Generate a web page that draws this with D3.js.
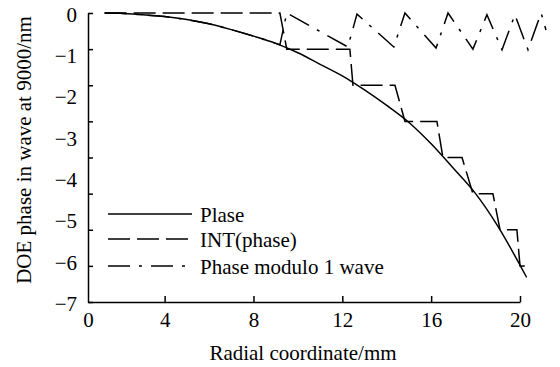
<!DOCTYPE html>
<html>
<head>
<meta charset="utf-8">
<script src="https://cdn.jsdelivr.net/npm/d3@7"></script>
<style>
  body { margin: 0; background: #fff; }
  svg text { font-family: "Liberation Serif", "Times New Roman", serif; fill: #000; }
</style>
</head>
<body>
<div id="chart"></div>
<script>
// Phase curve (waves) against radial coordinate (mm)
var plaseX = [1.3, 2, 3, 4, 5, 6, 7, 8, 9, 10, 11, 12, 13, 14, 15, 16, 17, 18, 19, 20, 20.3];
var plaseY = [0, -0.01, -0.05, -0.1, -0.18, -0.3, -0.46, -0.64, -0.84, -1.1, -1.42, -1.74, -2.13, -2.56, -3.03, -3.62, -4.3, -5.0, -5.9, -6.98, -7.32];

// INT(phase) staircase
var intX = [1.3, 9.19, 9.5, 12.34, 12.48, 14.37, 14.82, 16.26, 16.53, 17.39, 17.88, 18.78, 19.1, 19.86, 20.0, 20.36];
var intY = [0, 0, -1, -1, -2, -2, -3, -3, -4, -4, -5, -5, -6, -6, -7, -7];

// phase modulo 1 wave
var modX = [1.3, 2, 3, 4, 5, 6, 7, 8, 9, 9.19, 9.5, 12.25, 12.66, 14.32, 14.82, 16.22, 16.76, 17.88, 18.51, 19.19, 19.77, 20.36, 20.95, 21.17];
var modY = [0, -0.01, -0.05, -0.1, -0.18, -0.3, -0.46, -0.64, -0.84, -0.88, 0, -0.94, -0.03, -0.94, 0, -0.97, 0, -1.0, -0.05, -1.02, -0.05, -1.02, 0, -0.47];

var xTickValues = [0.55, 4, 8, 12, 16, 20];
var xTickLabels = ['0', '4', '8', '12', '16', '20'];
var yTickValues = [0, -1, -2, -3, -4, -5, -6, -7, -8];
var yLabelValues = [0, -1, -2, -3, -4, -5, -6, -7];

var legendNames = ['Plase', 'INT(phase)', 'Phase modulo 1 wave'];
var legendDash = [null, '22,7', '22,9,3,9'];

var width = 560, height = 367;
var margin = { left: 88, right: 520, top: 13, bottom: 302 };
var serif = '"Liberation Serif", "Times New Roman", serif';

var svg = d3.select('#chart').append('svg')
    .attr('width', width)
    .attr('height', height);

var xScale = d3.scaleLinear().domain([0.55, 20]).range([margin.left, margin.right]);
var yScale = d3.scaleLinear().domain([0, -8]).range([margin.top, margin.bottom]);
// the printed labels are spread over the same height as 0..-7
var yLabelScale = d3.scaleLinear().domain([0, -7]).range([margin.top, margin.bottom]);

var fontSize = '21px';

// x axis
var xAxis = svg.append('g')
    .attr('transform', 'translate(0,' + margin.bottom + ')')
    .call(d3.axisBottom(xScale)
        .tickValues(xTickValues)
        .tickSizeInner(-6)
        .tickSizeOuter(0)
        .tickPadding(10)
        .tickFormat(function (d, i) { return xTickLabels[i]; }))
    .attr('font-family', serif);
xAxis.select('.domain').attr('stroke-width', 1.5);
xAxis.selectAll('.tick line').attr('stroke-width', 1.5);
xAxis.selectAll('.tick').filter(function (d, i) { return i === 0; }).select('line').remove();
xAxis.selectAll('text').style('font-size', fontSize);

// y axis ticks
var yAxis = svg.append('g')
    .attr('transform', 'translate(' + margin.left + ',0)')
    .call(d3.axisLeft(yScale)
        .tickValues(yTickValues)
        .tickSizeInner(-5)
        .tickSizeOuter(0)
        .tickFormat(''));
yAxis.select('.domain').attr('stroke-width', 1.5);
yAxis.selectAll('.tick line').attr('stroke-width', 1.5);

// y axis labels
var yLabels = svg.append('g')
    .attr('transform', 'translate(' + margin.left + ',0)')
    .call(d3.axisLeft(yLabelScale)
        .tickValues(yLabelValues)
        .tickSize(0)
        .tickPadding(11)
        .tickFormat(d3.format('d')))
    .attr('font-family', serif);
yLabels.select('.domain').remove();
yLabels.selectAll('text').style('font-size', fontSize).attr('dy', '0.4em');

// axis titles
svg.append('text')
    .attr('x', 303)
    .attr('y', 360)
    .attr('text-anchor', 'middle')
    .style('font-size', fontSize)
    .text('Radial coordinate/mm');

svg.append('text')
    .attr('transform', 'translate(31,' + 150 + ') rotate(-90)')
    .attr('text-anchor', 'middle')
    .style('font-size', fontSize)
    .text('DOE phase in wave at 9000/nm');

// lines
var line = d3.line()
    .x(function (d) { return xScale(d[0]); })
    .y(function (d) { return yScale(d[1]); });

var series = [
    { xs: modX, ys: modY, dash: legendDash[2], curve: d3.curveLinear },
    { xs: intX, ys: intY, dash: legendDash[1], curve: d3.curveLinear },
    { xs: plaseX, ys: plaseY, dash: legendDash[0], curve: d3.curveMonotoneX }
];

series.forEach(function (s) {
    var pts = s.xs.map(function (x, i) { return [x, s.ys[i]]; });
    svg.append('path')
        .datum(pts)
        .attr('fill', 'none')
        .attr('stroke', '#000')
        .attr('stroke-width', 1.5)
        .attr('stroke-dasharray', s.dash)
        .attr('d', line.curve(s.curve));
});

// legend
var legendY = [214, 239, 266];
legendNames.forEach(function (name, i) {
    var g = svg.append('g').attr('transform', 'translate(0,' + legendY[i] + ')');
    g.append('line')
        .attr('x1', 108).attr('x2', 192)
        .attr('stroke', '#000')
        .attr('stroke-width', 1.5)
        .attr('stroke-dasharray', legendDash[i]);
    g.append('text')
        .attr('x', 200)
        .attr('y', 8)
        .style('font-size', fontSize)
        .text(name);
});
</script>
</body>
</html>
